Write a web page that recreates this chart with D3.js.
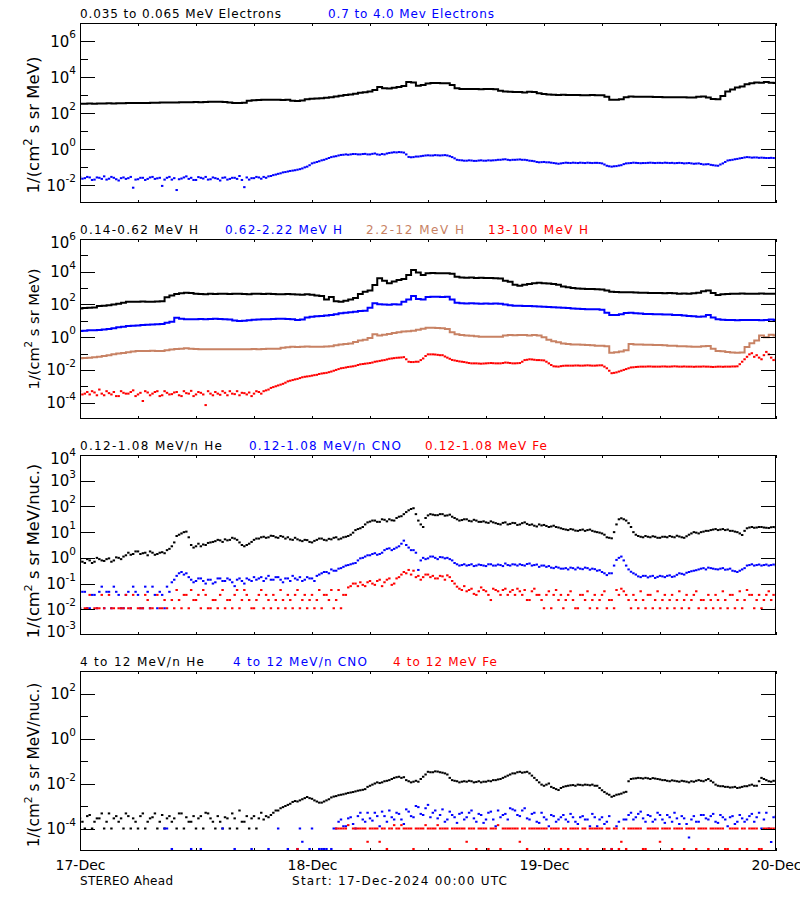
<!DOCTYPE html>
<html><head><meta charset="utf-8">
<script src="https://cdn.jsdelivr.net/npm/d3@7"></script>
<style>body{margin:0;background:#fff}svg{display:block}text{font-family:"DejaVu Sans",sans-serif}</style>
</head><body><svg id="c" width="800" height="900"></svg>
<script>
// ---------------- DATA (log10 of intensity) -------------
// "A" arrays: one value every 30 minutes from 17-Dec-2024 00:00 UTC.
// "B" arrays: the samples in between (offset by 15 minutes) for the noisy channels.
const startTime = "2024-12-17T00:00:00Z";
const endTime = "2024-12-20T00:00:00Z";
const sampleMinutes = 30;
const dayTickLabels = ["17-Dec","18-Dec","19-Dec","20-Dec"];

// Panel 1: electrons
const eLowLog = [2.52,2.52,2.53,2.52,2.53,2.53,2.54,2.53,2.54,2.54,
2.55,2.55,2.56,2.55,2.56,2.57,2.57,2.58,2.58,2.59,
2.59,2.6,2.6,2.6,2.61,2.6,2.61,2.62,2.62,2.62,
2.61,2.58,2.56,2.56,2.57,2.68,2.71,2.72,2.73,2.74,
2.74,2.73,2.72,2.73,2.68,2.67,2.7,2.76,2.79,2.8,
2.82,2.85,2.88,2.92,2.96,3.0,3.03,3.07,3.12,3.15,
3.2,3.28,3.45,3.38,3.36,3.4,3.44,3.5,3.72,3.7,
3.52,3.55,3.64,3.66,3.66,3.65,3.65,3.55,3.38,3.34,
3.34,3.33,3.33,3.32,3.33,3.33,3.32,3.24,3.2,3.18,
3.16,3.17,3.14,3.18,3.16,3.1,3.06,3.03,3.02,3.0,
3.01,3.0,3.0,3.0,2.99,2.99,3.0,2.98,2.98,2.9,
2.74,2.74,2.76,2.88,2.91,2.9,2.9,2.9,2.9,2.89,
2.89,2.88,2.88,2.88,2.88,2.87,2.86,2.86,2.9,2.92,
2.86,2.78,2.76,2.95,3.2,3.3,3.42,3.47,3.6,3.65,
3.7,3.68,3.72,3.68,3.67];
const eHighLog = [-1.55,-1.62,-1.58,-1.7,-1.6,-1.52,-1.65,-1.6,-1.75,-1.58,
-1.62,-2.15,-1.68,-1.6,-1.66,-1.55,-1.63,-2.05,-1.6,-1.7,
-2.28,-1.64,-1.52,-1.6,-1.72,-1.6,-1.55,-1.68,-1.62,-1.75,
-1.58,-1.66,-1.6,-1.5,-2.12,-1.7,-1.62,-1.58,-1.55,-1.52,
-1.45,-1.38,-1.3,-1.25,-1.2,-1.15,-1.08,-0.98,-0.8,-0.72,
-0.63,-0.55,-0.45,-0.4,-0.33,-0.3,-0.3,-0.28,-0.3,-0.27,
-0.3,-0.25,-0.32,-0.3,-0.22,-0.18,-0.17,-0.2,-0.44,-0.45,
-0.42,-0.38,-0.35,-0.36,-0.35,-0.35,-0.36,-0.45,-0.6,-0.63,
-0.65,-0.64,-0.66,-0.63,-0.65,-0.64,-0.62,-0.6,-0.57,-0.62,
-0.6,-0.58,-0.6,-0.65,-0.68,-0.74,-0.72,-0.74,-0.78,-0.82,
-0.78,-0.77,-0.76,-0.78,-0.77,-0.76,-0.78,-0.77,-0.8,-0.93,
-0.98,-0.95,-0.9,-0.8,-0.78,-0.77,-0.79,-0.78,-0.76,-0.78,
-0.77,-0.76,-0.78,-0.79,-0.77,-0.8,-0.78,-0.82,-0.8,-0.86,
-0.84,-0.9,-0.93,-0.8,-0.64,-0.6,-0.55,-0.5,-0.45,-0.48,
-0.47,-0.48,-0.5,-0.49,-0.52];
const eHighLogB = [-1.65,-1.55,-1.72,-1.58,-1.66,-1.7,-1.55,-1.68,-1.62,-1.66,
-1.55,-1.7,-1.6,-1.72,-1.58,-1.66,-1.6,-1.7,-1.55,-1.62,
-1.68,-1.58,-1.66,-1.72,-1.56,-1.64,-1.7,-1.58,-1.66,-1.6,
-1.7,-1.6,-1.66,-1.72,-1.58,-1.62,-1.55,-1.65,-1.6,-1.5,
-1.42,-1.35,-1.28,-1.22,-1.18,-1.12,-1.02,-0.9,-0.76,-0.68,
-0.6,-0.5,-0.42,-0.36,-0.32,-0.32,-0.28,-0.3,-0.28,-0.3,
-0.27,-0.3,-0.28,-0.25,-0.2,-0.19,-0.18,-0.3,-0.46,-0.42,
-0.4,-0.36,-0.36,-0.34,-0.36,-0.34,-0.4,-0.52,-0.62,-0.65,
-0.63,-0.66,-0.64,-0.65,-0.63,-0.63,-0.6,-0.58,-0.6,-0.6,
-0.59,-0.6,-0.62,-0.66,-0.72,-0.73,-0.74,-0.76,-0.8,-0.8,
-0.76,-0.78,-0.77,-0.76,-0.78,-0.77,-0.77,-0.78,-0.86,-0.96,
-0.96,-0.92,-0.84,-0.79,-0.76,-0.78,-0.78,-0.77,-0.77,-0.77,
-0.78,-0.77,-0.77,-0.78,-0.78,-0.79,-0.8,-0.81,-0.83,-0.85,
-0.88,-0.92,-0.86,-0.72,-0.62,-0.57,-0.52,-0.47,-0.46,-0.47,
-0.49,-0.49,-0.5,-0.5];

// Panel 2: protons
const h1Log = [1.76,1.78,1.8,1.82,1.9,1.92,1.95,2.0,2.05,2.1,
2.17,2.16,2.17,2.18,2.17,2.16,2.18,2.2,2.44,2.55,
2.64,2.68,2.72,2.7,2.66,2.64,2.63,2.65,2.64,2.66,
2.65,2.64,2.66,2.65,2.64,2.63,2.65,2.66,2.64,2.65,
2.64,2.62,2.63,2.64,2.62,2.61,2.6,2.62,2.6,2.55,
2.52,2.3,2.45,2.2,2.17,2.22,2.31,2.4,2.64,2.78,
2.85,3.19,3.6,3.45,3.29,3.4,3.49,3.55,3.8,4.1,
3.95,3.8,3.9,3.92,3.9,3.91,3.9,3.88,3.7,3.64,
3.63,3.64,3.62,3.63,3.62,3.61,3.6,3.58,3.45,3.39,
3.2,3.15,3.2,3.25,3.3,3.32,3.3,3.28,3.25,3.2,
3.1,3.05,3.0,2.98,2.96,2.95,2.95,2.93,2.92,2.85,
2.78,2.76,2.75,2.74,2.74,2.73,2.72,2.72,2.7,2.7,
2.7,2.69,2.7,2.68,2.66,2.67,2.65,2.68,2.72,2.8,
2.85,2.7,2.58,2.62,2.64,2.66,2.66,2.67,2.66,2.66,
2.66,2.67,2.66,2.66,2.66];
const h2Log = [0.38,0.4,0.42,0.43,0.44,0.47,0.5,0.55,0.6,0.64,
0.68,0.7,0.72,0.74,0.76,0.78,0.79,0.8,0.88,0.95,
1.19,1.12,1.1,1.1,1.09,1.11,1.1,1.11,1.12,1.11,
1.1,1.08,1.02,0.99,1.0,1.04,1.06,1.08,1.1,1.1,
1.11,1.12,1.12,1.11,1.1,1.05,1.08,1.2,1.25,1.28,
1.3,1.33,1.35,1.4,1.46,1.5,1.52,1.55,1.6,1.62,
1.8,2.07,2.02,2.0,1.98,2.01,2.0,2.17,2.3,2.52,
2.33,2.3,2.45,2.47,2.47,2.46,2.47,2.3,2.1,2.07,
2.06,2.07,2.06,2.05,2.06,2.05,2.06,2.05,2.0,1.95,
1.92,1.92,1.9,1.9,1.89,1.88,1.86,1.84,1.83,1.82,
1.8,1.78,1.76,1.74,1.72,1.71,1.7,1.7,1.68,1.5,
1.35,1.36,1.4,1.48,1.5,1.46,1.44,1.42,1.41,1.4,
1.4,1.39,1.38,1.36,1.35,1.32,1.3,1.28,1.25,1.27,
1.35,1.2,1.09,1.06,1.05,1.05,1.04,1.05,1.05,1.05,
1.05,1.04,1.05,1.08,1.05];
const h3Log = [-1.29,-1.27,-1.25,-1.22,-1.2,-1.15,-1.1,-1.05,-1.0,-0.96,
-0.92,-0.88,-0.85,-0.84,-0.84,-0.83,-0.84,-0.84,-0.8,-0.75,
-0.72,-0.7,-0.68,-0.7,-0.72,-0.74,-0.74,-0.73,-0.74,-0.74,
-0.73,-0.74,-0.74,-0.73,-0.74,-0.74,-0.72,-0.73,-0.72,-0.7,
-0.7,-0.7,-0.65,-0.62,-0.58,-0.6,-0.58,-0.57,-0.58,-0.58,
-0.58,-0.57,-0.55,-0.5,-0.45,-0.42,-0.38,-0.3,-0.2,-0.15,
-0.05,0.18,0.1,0.15,0.2,0.25,0.3,0.34,0.36,0.4,
0.45,0.52,0.58,0.58,0.56,0.54,0.5,0.3,0.18,0.13,
0.1,0.08,0.05,0.03,0.03,0.02,0.03,0.03,0.1,0.13,
0.12,0.14,0.13,0.1,0.13,0.1,0.0,-0.15,-0.25,-0.31,
-0.38,-0.42,-0.44,-0.45,-0.46,-0.48,-0.5,-0.52,-0.53,-0.55,
-0.95,-0.92,-0.88,-0.8,-0.42,-0.44,-0.45,-0.46,-0.47,-0.48,
-0.48,-0.5,-0.52,-0.53,-0.55,-0.56,-0.57,-0.58,-0.58,-0.56,
-0.54,-0.7,-0.84,-0.86,-0.9,-0.93,-0.95,-0.94,-0.6,-0.37,
-0.2,0.1,0.0,0.15,0.1];
const h4Log = [-3.3,-3.45,-3.5,-3.38,-3.2,-3.55,-3.42,-3.35,-3.6,-3.4,
-3.45,-3.25,-3.5,-3.9,-3.38,-3.45,-3.3,-3.55,-3.4,-3.48,
-3.35,-3.6,-3.42,-3.28,-3.5,-3.4,-4.15,-3.45,-3.35,-3.52,
-3.4,-3.3,-3.48,-3.55,-3.42,-3.38,-3.45,-3.35,-3.3,-3.2,
-3.05,-2.95,-2.85,-2.7,-2.62,-2.55,-2.45,-2.4,-2.35,-2.3,
-2.22,-2.18,-2.1,-2.0,-1.9,-1.85,-1.8,-1.75,-1.66,-1.62,
-1.58,-1.5,-1.45,-1.4,-1.32,-1.28,-1.25,-1.22,-1.5,-1.52,
-1.5,-1.3,-1.05,-1.05,-1.08,-1.1,-1.25,-1.39,-1.45,-1.5,
-1.55,-1.6,-1.6,-1.62,-1.6,-1.58,-1.6,-1.6,-1.55,-1.58,
-1.6,-1.58,-1.4,-1.35,-1.38,-1.4,-1.42,-1.6,-1.78,-1.8,
-1.75,-1.74,-1.74,-1.73,-1.74,-1.72,-1.74,-1.73,-1.72,-1.9,
-2.2,-2.15,-2.05,-1.95,-1.85,-1.82,-1.8,-1.8,-1.79,-1.8,
-1.8,-1.79,-1.8,-1.78,-1.8,-1.79,-1.8,-1.81,-1.8,-1.79,
-1.8,-1.82,-1.8,-1.81,-1.8,-1.79,-1.78,-1.5,-1.2,-0.98,
-1.1,-1.35,-0.9,-1.25,-1.3];
const h4LogB = [-3.5,-3.35,-3.3,-3.55,-3.45,-3.3,-3.5,-3.6,-3.3,-3.45,
-3.35,-3.6,-3.4,-3.3,-3.55,-3.35,-3.6,-3.3,-3.5,-3.38,
-3.55,-3.3,-3.45,-3.6,-3.35,-3.5,-3.3,-3.55,-3.45,-3.3,
-3.55,-3.45,-3.3,-3.4,-3.5,-3.6,-3.3,-3.45,-3.25,-3.1,
-3.0,-2.9,-2.78,-2.66,-2.58,-2.5,-2.42,-2.38,-2.32,-2.25,
-2.2,-2.14,-2.05,-1.95,-1.88,-1.82,-1.78,-1.7,-1.64,-1.6,
-1.55,-1.48,-1.42,-1.36,-1.3,-1.26,-1.24,-1.35,-1.52,-1.5,
-1.4,-1.15,-1.05,-1.06,-1.1,-1.18,-1.32,-1.42,-1.48,-1.52,
-1.58,-1.6,-1.61,-1.61,-1.59,-1.59,-1.6,-1.58,-1.56,-1.6,
-1.59,-1.5,-1.38,-1.36,-1.4,-1.41,-1.5,-1.7,-1.79,-1.77,
-1.74,-1.74,-1.73,-1.74,-1.73,-1.73,-1.74,-1.72,-1.8,-2.05,
-2.18,-2.1,-2.0,-1.9,-1.84,-1.81,-1.8,-1.79,-1.8,-1.8,
-1.79,-1.8,-1.79,-1.79,-1.8,-1.8,-1.8,-1.8,-1.8,-1.8,
-1.81,-1.81,-1.8,-1.8,-1.8,-1.79,-1.65,-1.35,-1.05,-1.2,
-1.25,-1.1,-1.05,-1.4];

// Panel 3: 0.12-1.08 MeV/n ions
const he3Log = [-0.08,-0.2,-0.1,-0.15,-0.05,-0.12,-0.02,-0.1,0.0,0.05,
0.2,0.15,0.25,0.18,0.1,0.2,0.15,0.22,0.3,0.45,
0.85,0.95,1.02,0.5,0.45,0.45,0.5,0.6,0.65,0.68,
0.72,0.7,0.75,0.6,0.45,0.55,0.7,0.75,0.82,0.8,
0.85,0.78,0.82,0.8,0.7,0.72,0.65,0.69,0.6,0.7,
0.75,0.68,0.72,0.8,0.75,0.82,0.9,1.08,1.15,1.3,
1.41,1.45,1.4,1.48,1.5,1.45,1.6,1.7,1.85,1.93,
1.45,1.2,1.65,1.68,1.66,1.7,1.65,1.6,1.5,1.47,
1.5,1.42,1.45,1.4,1.38,1.42,1.35,1.3,1.38,1.32,
1.35,1.3,1.38,1.28,1.25,1.3,1.28,1.2,1.25,1.18,
1.12,1.08,1.1,1.05,1.1,1.08,1.05,1.0,0.95,0.8,
0.76,1.3,1.54,1.45,1.2,0.9,0.82,0.85,0.8,0.82,
0.78,0.82,0.85,0.8,0.83,0.78,0.9,1.0,0.95,1.02,
1.05,1.1,1.08,1.12,1.1,1.05,1.0,0.89,1.15,1.2,
1.18,1.2,1.17,1.19,1.16];
const he3LogB = [-0.15,-0.05,-0.2,0.0,-0.1,-0.05,-0.15,0.02,-0.05,0.1,
0.12,0.25,0.15,0.2,0.25,0.12,0.2,0.18,0.35,0.6,
0.9,1.0,0.8,0.4,0.55,0.52,0.58,0.62,0.7,0.62,
0.68,0.78,0.7,0.5,0.5,0.62,0.75,0.8,0.78,0.86,
0.8,0.85,0.75,0.72,0.78,0.68,0.7,0.62,0.66,0.75,
0.7,0.74,0.78,0.72,0.8,0.85,0.98,1.12,1.2,1.38,
1.45,1.4,1.5,1.42,1.46,1.55,1.62,1.78,1.9,1.7,
1.3,1.55,1.7,1.66,1.7,1.64,1.68,1.55,1.45,1.5,
1.44,1.48,1.4,1.42,1.36,1.38,1.32,1.36,1.3,1.36,
1.28,1.35,1.32,1.3,1.22,1.26,1.24,1.22,1.2,1.15,
1.1,1.12,1.06,1.08,1.05,1.1,1.02,0.98,0.9,0.78,
1.0,1.5,1.5,1.35,1.0,0.85,0.8,0.82,0.84,0.78,
0.82,0.8,0.82,0.86,0.8,0.84,0.95,0.98,1.0,1.05,
1.08,1.12,1.1,1.08,1.05,1.02,0.95,1.05,1.18,1.17,
1.2,1.18,1.16,1.2];
const cno3Log = [-1.96,-1.32,-1.96,-1.44,-1.32,-1.96,-1.32,-1.12,-1.44,-1.96,
-1.32,-1.12,-1.44,-1.96,-1.32,-1.12,-1.96,-1.44,-1.12,-0.95,
-0.7,-0.55,-0.6,-0.85,-0.9,-0.8,-1.0,-0.85,-0.95,-0.8,
-0.9,-0.85,-1.1,-0.8,-1.0,-0.85,-0.75,-0.8,-0.9,-0.7,
-0.85,-0.75,-0.95,-0.8,-0.7,-0.85,-0.9,-0.75,-0.8,-0.7,
-0.6,-0.55,-0.45,-0.5,-0.4,-0.3,-0.25,-0.2,-0.02,0.05,
0.1,0.18,0.15,0.3,0.37,0.35,0.45,0.67,0.4,0.3,
-0.47,0.0,-0.02,0.05,-0.05,0.02,0.0,-0.1,-0.25,-0.28,
-0.3,-0.25,-0.3,-0.28,-0.32,-0.25,-0.3,-0.28,-0.22,-0.3,
-0.26,-0.25,-0.3,-0.22,-0.28,-0.35,-0.3,-0.32,-0.4,-0.38,
-0.42,-0.45,-0.4,-0.38,-0.44,-0.4,-0.42,-0.5,-0.55,-0.67,
-0.6,-0.08,0.05,-0.3,-0.54,-0.65,-0.75,-0.7,-0.72,-0.78,
-0.7,-0.75,-0.68,-0.72,-0.6,-0.65,-0.55,-0.5,-0.45,-0.4,
-0.38,-0.42,-0.45,-0.4,-0.45,-0.5,-0.55,-0.45,-0.3,-0.25,
-0.28,-0.3,-0.26,-0.28,-0.3];
const cno3LogB = [-1.32,-1.96,-1.44,-1.96,-1.12,-1.32,-1.96,-1.32,-1.96,-1.44,
-1.96,-1.32,-1.96,-1.12,-1.96,-1.44,-1.32,-1.96,-1.32,-0.85,
-0.6,-0.65,-0.75,-0.95,-0.8,-0.9,-0.85,-1.0,-0.8,-0.9,
-0.8,-0.95,-0.85,-0.9,-0.8,-0.9,-0.85,-0.75,-0.8,-0.85,
-0.75,-0.85,-0.8,-0.9,-0.8,-0.75,-0.85,-0.8,-0.9,-0.65,
-0.55,-0.6,-0.5,-0.42,-0.35,-0.28,-0.22,-0.1,0.0,0.1,
0.15,0.12,0.2,0.35,0.3,0.4,0.55,0.5,0.3,0.2,
-0.1,-0.05,0.05,0.0,0.03,-0.02,-0.05,-0.2,-0.3,-0.25,
-0.28,-0.32,-0.26,-0.3,-0.25,-0.3,-0.26,-0.32,-0.28,-0.25,
-0.3,-0.28,-0.24,-0.3,-0.26,-0.3,-0.35,-0.38,-0.35,-0.42,
-0.4,-0.38,-0.45,-0.42,-0.38,-0.46,-0.44,-0.48,-0.6,-0.6,
-0.3,0.0,-0.1,-0.45,-0.6,-0.72,-0.7,-0.76,-0.7,-0.74,
-0.72,-0.7,-0.74,-0.66,-0.62,-0.58,-0.52,-0.48,-0.42,-0.45,
-0.4,-0.44,-0.42,-0.46,-0.42,-0.52,-0.5,-0.4,-0.28,-0.3,
-0.26,-0.28,-0.3,-0.26];
const fe3Log = [-1.96,-1.96,-1.44,-1.96,-1.96,-1.96,-1.44,-1.96,-1.96,-1.96,
-1.96,-1.44,-1.96,-1.96,-1.64,-1.96,-1.44,-1.96,-1.96,-1.64,
-1.25,-1.96,-1.44,-1.25,-1.64,-1.96,-1.44,-1.96,-1.64,-1.44,
-1.96,-1.64,-1.44,-1.96,-1.25,-1.64,-1.96,-1.44,-1.96,-1.64,
-1.44,-1.96,-1.64,-1.44,-1.96,-1.25,-1.64,-1.96,-1.44,-1.64,
-1.96,-1.44,-1.25,-1.64,-1.96,-1.44,-1.1,-1.0,-0.95,-1.1,
-0.9,-1.05,-0.85,-0.95,-0.8,-1.0,-0.75,-0.55,-0.47,-0.5,
-0.7,-0.75,-0.65,-0.7,-0.8,-0.72,-0.68,-0.9,-1.12,-1.25,
-1.3,-1.2,-1.44,-1.15,-1.3,-1.64,-1.25,-1.44,-1.2,-1.32,
-1.44,-1.3,-1.25,-1.64,-1.2,-1.44,-1.96,-1.3,-1.44,-1.64,
-1.96,-1.44,-1.64,-1.96,-1.44,-1.3,-1.64,-1.96,-1.44,-1.96,
-1.64,-1.25,-1.2,-1.44,-1.96,-1.64,-1.3,-1.96,-1.44,-1.64,
-1.96,-1.44,-1.64,-1.96,-1.3,-1.64,-1.96,-1.44,-1.96,-1.64,
-1.44,-1.96,-1.64,-1.3,-1.96,-1.44,-1.64,-1.96,-1.25,-1.44,
-1.64,-1.96,-1.44,-1.64,-1.96];
const fe3LogB = [null,-1.96,null,-1.96,-1.44,null,-1.96,null,-1.96,-1.44,
-1.96,null,-1.96,-1.44,-1.96,null,-1.96,-1.64,null,-1.96,
-1.64,-1.44,-1.96,-1.64,-1.44,-1.25,-1.96,-1.64,-1.96,-1.25,
-1.64,-1.96,-1.25,-1.64,-1.44,-1.96,-1.64,-1.25,-1.44,-1.96,
-1.64,-1.25,-1.96,-1.64,-1.44,-1.96,-1.44,-1.64,-1.96,-1.25,
-1.44,-1.64,-1.96,-1.25,-1.44,-1.15,-1.0,-1.1,-1.05,-0.95,
-1.0,-0.9,-1.1,-0.85,-1.05,-0.8,-0.65,-0.6,-0.65,-0.75,
-0.85,-0.65,-0.75,-0.8,-0.7,-0.85,-0.75,-1.0,-1.2,-1.1,
-1.25,-1.4,-1.3,-1.25,-1.44,-1.2,-1.3,-1.25,-1.44,-1.25,
-1.2,-1.44,-1.64,-1.3,-1.44,-1.64,-1.44,-1.96,-1.25,-1.44,
-1.64,-1.3,-1.96,-1.44,-1.64,-1.96,-1.44,-1.64,-1.3,-1.64,
-1.96,-1.44,-1.3,-1.64,-1.44,-1.96,-1.64,-1.44,-1.96,-1.3,
-1.64,-1.96,-1.44,-1.64,-1.96,-1.44,-1.64,-1.3,-1.64,-1.96,
-1.64,-1.44,-1.96,-1.64,-1.44,-1.96,-1.3,-1.64,-1.44,-1.96,
-1.44,-1.64,-1.3,-1.44];

// Panel 4: 4-12 MeV/n ions (null = no count)
const he4Log = [-3.55,-4.0,-3.4,-3.7,-3.55,-4.0,-3.33,-3.55,-3.7,-4.0,
-3.45,-3.55,-4.0,-3.33,-3.7,-3.5,-4.0,-3.4,-3.55,-3.7,
-4.0,-3.33,-3.5,-3.7,-4.0,-3.45,-3.3,-3.55,-4.0,-3.7,
-3.5,-4.0,-3.55,-3.2,-3.7,-4.0,-3.45,-3.55,-3.6,-3.5,
-3.3,-3.2,-3.05,-2.95,-2.82,-2.8,-2.7,-2.6,-2.68,-2.8,
-2.85,-2.75,-2.62,-2.56,-2.5,-2.45,-2.4,-2.35,-2.3,-2.25,
-2.1,-2.0,-1.98,-1.9,-1.85,-1.75,-1.7,-1.72,-1.9,-1.92,
-1.92,-1.7,-1.48,-1.5,-1.47,-1.52,-1.6,-1.85,-1.9,-1.92,
-1.92,-1.9,-1.93,-1.95,-1.92,-1.9,-1.85,-1.8,-1.7,-1.6,
-1.55,-1.48,-1.5,-1.55,-1.75,-1.95,-2.1,-2.0,-2.2,-2.29,
-2.15,-2.1,-2.07,-2.05,-2.08,-2.06,-2.05,-2.1,-2.3,-2.45,
-2.59,-2.5,-2.45,-2.37,-1.8,-1.77,-1.76,-1.75,-1.8,-1.78,
-1.82,-1.85,-1.9,-1.88,-1.92,-1.9,-1.95,-1.92,-1.85,-1.9,
-1.8,-1.95,-2.1,-2.12,-2.15,-2.17,-2.2,-2.15,-2.12,-2.05,
-2.1,-1.75,-1.85,-1.92,-1.9];
const he4LogB = [-3.7,-3.45,-4.0,-3.55,-3.33,-3.7,-4.0,-3.45,-3.55,-3.33,
-4.0,-3.7,-3.45,-4.0,-3.55,-3.33,-3.7,-4.0,-3.45,-3.55,
-3.33,-4.0,-3.7,-3.45,-3.55,-4.0,-3.33,-3.7,-3.45,-4.0,
-3.55,-3.33,-4.0,-3.7,-3.45,-3.55,-4.0,-3.3,-3.45,-3.4,
-3.2,-3.1,-3.0,-2.9,-2.78,-2.75,-2.65,-2.65,-2.75,-2.85,
-2.8,-2.7,-2.58,-2.52,-2.48,-2.42,-2.38,-2.32,-2.28,-2.15,
-2.05,-1.95,-1.95,-1.88,-1.8,-1.72,-1.75,-1.85,-1.95,-1.88,
-1.8,-1.6,-1.5,-1.46,-1.5,-1.55,-1.75,-1.88,-1.95,-1.9,
-1.88,-1.95,-1.9,-1.92,-1.88,-1.85,-1.82,-1.75,-1.65,-1.55,
-1.5,-1.52,-1.48,-1.65,-1.85,-2.05,-2.05,-2.15,-2.25,-2.2,
-2.12,-2.08,-2.1,-2.06,-2.05,-2.08,-2.1,-2.2,-2.38,-2.5,
-2.55,-2.48,-2.4,-1.9,-1.78,-1.75,-1.78,-1.77,-1.76,-1.8,
-1.85,-1.88,-1.86,-1.9,-1.88,-1.92,-1.9,-1.88,-1.88,-1.85,
-1.88,-2.05,-2.12,-2.15,-2.18,-2.15,-2.18,-2.12,-2.08,-2.1,
-1.9,-1.8,-1.9,-1.88];
const cno4Log = [null,null,null,null,null,null,null,null,null,null,
null,null,null,null,null,null,null,null,-4.0,-4.91,
null,null,null,-4.91,null,-4.91,null,null,null,null,
null,null,-4.91,null,null,null,null,null,null,-4.91,
null,-4.0,null,-4.91,null,-4.91,-4.59,null,-4.0,null,
-4.91,-4.91,-4.91,-4.0,-3.6,-3.9,-3.5,-4.0,-3.3,-3.7,
-3.55,-3.3,-3.9,-3.45,-3.2,-3.6,-3.35,-3.8,-3.25,-3.5,
-3.05,-3.4,-2.95,-3.3,-3.55,-3.15,-3.6,-3.4,-3.75,-3.3,
-3.5,-3.2,-3.7,-3.4,-3.6,-3.25,-3.9,-3.5,-3.35,-3.1,
-3.2,-3.45,-3.1,-3.6,-3.3,-3.75,-3.5,-3.9,-3.45,-3.6,
-3.4,-3.7,-3.5,-3.8,-3.45,-3.6,-3.35,-3.9,-3.5,-3.7,
-4.91,-3.9,null,-3.6,-3.3,-3.5,-3.25,-3.7,-3.45,-3.6,
-3.4,-3.75,-3.5,-3.3,-3.8,-3.55,-4.4,-3.45,-3.7,-3.4,
-3.6,-3.35,-3.75,-3.5,-3.9,-3.45,-3.7,-3.55,-3.6,-3.35,
-3.5,-4.0,-3.3,-4.6,-3.45];
const cno4LogB = [null,null,null,null,null,null,null,null,null,null,
null,null,null,null,null,null,null,-4.0,null,null,
null,null,null,null,null,null,null,null,null,-4.0,
null,null,null,null,null,-4.91,null,null,null,null,
null,null,null,null,null,-4.0,null,-4.91,null,-4.91,
-4.91,null,-4.0,-3.7,-3.9,-3.55,-3.8,-3.45,-3.6,-3.3,
-3.65,-3.45,-3.25,-3.7,-3.5,-3.3,-3.6,-3.15,-3.45,-3.0,
-3.35,-3.1,-3.5,-3.2,-3.4,-3.7,-3.25,-3.5,-3.35,-3.6,
-3.3,-3.55,-3.35,-3.75,-3.3,-3.6,-3.2,-3.4,-3.6,-3.15,
-3.4,-3.2,-3.55,-3.35,-3.7,-3.3,-3.6,-3.4,-3.7,-3.5,
-3.6,-3.35,-3.7,-3.5,-3.6,-3.9,-3.5,-3.6,-3.8,-3.45,
null,-3.7,-3.6,-3.4,-3.6,-3.35,-3.55,-3.4,-3.7,-3.3,
-3.6,-3.4,-3.7,-3.55,-3.45,-3.8,-3.6,-3.7,-3.4,-3.55,
-3.45,-3.7,-3.4,-3.6,-3.5,-3.8,-3.4,-3.7,-3.45,-3.7,
-3.3,-3.6,-4.0,-3.5];
const fe4Log = [null,null,null,null,null,null,null,null,null,null,
null,null,null,null,null,null,null,null,null,null,
null,null,null,null,null,null,null,null,null,null,
null,null,null,null,null,null,null,null,null,null,
null,null,null,null,null,-4.91,null,null,null,null,
null,null,null,-4.0,-4.0,-4.0,-4.91,-4.0,-4.0,-4.0,
-4.0,-4.0,-4.59,-4.0,-4.0,-3.85,-4.0,-4.0,-4.0,-4.91,
-4.0,-4.0,-4.0,-4.0,-3.85,-4.0,-4.0,-4.0,-4.0,-4.0,
-4.59,-4.0,-4.91,-4.0,-4.0,-4.0,-4.0,-4.91,-4.0,-4.0,
-4.0,-4.59,-4.0,-4.0,-4.0,-4.0,-4.0,-4.91,-4.0,-4.0,
-4.0,-4.91,-4.0,-4.0,-4.0,-4.91,-4.0,-4.0,-4.0,-4.0,
-4.91,-4.0,-4.59,-4.91,-4.0,-4.0,-4.0,-4.91,-4.0,-4.0,
-4.59,-4.0,-4.0,-4.0,-4.0,-4.91,-4.0,-4.0,-4.0,-4.0,
-4.91,-4.0,-4.0,-4.0,-4.91,-4.0,-4.0,-4.0,-4.91,-4.0,
-4.0,-4.91,-4.0,-4.0,-4.0];
const fe4LogB = [null,null,null,null,null,null,null,null,null,null,
null,null,null,null,null,null,null,null,null,null,
null,null,null,null,null,null,null,null,null,null,
null,null,null,null,null,null,null,null,null,null,
null,null,null,null,null,null,null,null,null,null,
null,null,null,-4.0,-4.0,-3.85,-4.0,-4.0,-4.0,-4.59,
-4.0,-4.0,-4.0,-4.91,-4.0,-4.0,-3.85,-4.0,-4.0,-4.0,
-4.0,-3.85,-4.0,-4.0,-4.0,-4.0,-4.91,-4.0,-4.0,-4.0,
-4.0,-4.0,-4.0,-4.0,-4.91,-4.0,-3.85,-4.0,-4.0,-4.0,
-4.0,-4.0,-4.91,-4.0,-4.0,-4.0,-4.0,-4.0,-4.0,-4.91,
-4.0,-4.0,-4.0,-4.91,-4.0,-4.0,-4.0,-4.0,-4.91,-4.0,
-4.0,-4.91,-4.0,-4.0,-4.0,-4.0,-4.91,-4.0,-4.0,-4.0,
-4.0,-4.0,-4.91,-4.0,-4.0,-4.0,-4.0,-4.91,-4.0,-4.0,
-4.0,-4.0,-4.0,-4.91,-4.0,-4.0,-4.91,-4.0,-4.0,-4.0,
-4.91,-4.0,-4.0,-4.0];

// ---------------- LAYOUT ----------------
const BLUE = "#0000ff", RED = "#ff0000", BROWN = "#c88264", BLACK = "#000000";
const L = 80, R = 776, PH = 180;
const panels = [
  {top: 23, lo: -3, hi: 7, majors: [-2,0,2,4,6], minors: [-1,1,3,5], labels: [-2,0,2,4,6],
   ylabel: ["1/(cm", "2", " s sr MeV)"], yfs: 16.5, ycy: 125,
   titles: [{t: "0.035 to 0.065 MeV Electrons", x: 80, w: 201, c: BLACK}, {t: "0.7 to 4.0 Mev Electrons", x: 328, w: 166, c: BLUE}],
   series: [{v: eLowLog, c: BLACK, mode: "line"}, {v: eHighLog, vB: eHighLogB, c: BLUE, mode: "dots"}]},
  {top: 239, lo: -5, hi: 6, majors: [-4,-2,0,2,4], minors: [-3,-1,1,3,5], labels: [-4,-2,0,2,4,6],
   ylabel: ["1/(cm", "2", " s sr MeV)"], yfs: 14.6, ycy: 329,
   titles: [{t: "0.14-0.62 MeV H", x: 80, w: 118, c: BLACK}, {t: "0.62-2.22 MeV H", x: 225, w: 117, c: BLUE},
            {t: "2.2-12 MeV H", x: 366, w: 98, c: BROWN}, {t: "13-100 MeV H", x: 488, w: 100, c: RED}],
   series: [{v: h1Log, c: BLACK, mode: "line"}, {v: h2Log, c: BLUE, mode: "line"}, {v: h3Log, c: BROWN, mode: "line"}, {v: h4Log, vB: h4LogB, c: RED, mode: "dots"}]},
  {top: 455, lo: -3, hi: 4, majors: [-2,-1,0,1,2,3], minors: [], labels: [-3,-2,-1,0,1,2,3,4],
   ylabel: ["1/(cm", "2", " s sr MeV/nuc.)"], yfs: 16.2, ycy: 551,
   titles: [{t: "0.12-1.08 MeV/n He", x: 80, w: 142, c: BLACK}, {t: "0.12-1.08 MeV/n CNO", x: 249, w: 152, c: BLUE},
            {t: "0.12-1.08 MeV Fe", x: 425, w: 122, c: RED}],
   series: [{v: he3Log, vB: he3LogB, c: BLACK, mode: "dots"}, {v: cno3Log, vB: cno3LogB, c: BLUE, mode: "dots"}, {v: fe3Log, vB: fe3LogB, c: RED, mode: "dots"}]},
  {top: 671, lo: -5, hi: 3, majors: [-4,-2,0,2], minors: [-3,-1,1], labels: [-4,-2,0,2],
   ylabel: ["1/(cm", "2", " s sr MeV/nuc.)"], yfs: 15.3, ycy: 765,
   titles: [{t: "4 to 12 MeV/n He", x: 80, w: 124, c: BLACK}, {t: "4 to 12 MeV/n CNO", x: 233, w: 134, c: BLUE},
            {t: "4 to 12 MeV Fe", x: 393, w: 104, c: RED}],
   series: [{v: he4Log, vB: he4LogB, c: BLACK, mode: "dots"}, {v: cno4Log, vB: cno4LogB, c: BLUE, mode: "dots"}, {v: fe4Log, vB: fe4LogB, c: RED, mode: "dots"}]}
];

const svg = d3.select("#c");
svg.append("rect").attr("width", 800).attr("height", 900).attr("fill", "#fff");
const x = d3.scaleUtc().domain([new Date(startTime), new Date(endTime)]).range([L, R]);
const t0 = new Date(startTime).getTime();
const tAt = k => new Date(t0 + k * sampleMinutes * 60000);
const slotW = x(tAt(1)) - x(tAt(0));

panels.forEach((p, pi) => {
  const B = p.top + PH;
  const y = d3.scaleLog().domain([10 ** p.lo, 10 ** p.hi]).range([B, p.top]);
  const g = svg.append("g");
  const cid = "clip" + pi;
  svg.append("clipPath").attr("id", cid).append("rect").attr("x", L).attr("y", p.top).attr("width", R - L).attr("height", PH);
  const dg = g.append("g").attr("clip-path", `url(#${cid})`);
  p.series.forEach(s => {
    let pts = s.v.map((v, i) => ({t: tAt(i), v}));
    if (s.vB) pts = pts.concat(s.vB.map((v, i) => ({t: tAt(i + 0.5), v})));
    pts = pts.filter(d => d.v !== null);
    if (s.mode === "line") {
      const line = d3.line().x(d => x(d.t)).y(d => y(10 ** d.v)).curve(d3.curveStep);
      dg.append("path").datum(pts).attr("d", line).attr("fill", "none").attr("stroke", s.c).attr("stroke-width", 2);
    } else {
      const w = s.vB ? slotW / 2 : slotW - 0.6;
      dg.append("g").selectAll("rect").data(pts).join("rect")
        .attr("x", d => x(d.t) - w / 2).attr("y", d => y(10 ** d.v) - 1)
        .attr("width", w).attr("height", 2).attr("fill", s.c);
    }
  });
  // frame
  g.append("rect").attr("x", L + 0.5).attr("y", p.top + 0.5).attr("width", R - L - 1).attr("height", PH - 1)
    .attr("fill", "none").attr("stroke", "#000").attr("stroke-width", 1);
  const axisStyle = sel => { sel.select(".domain").remove(); sel.selectAll("line").attr("stroke", "#000").attr("shape-rendering", "crispEdges"); };
  g.append("g").attr("transform", `translate(${L},0)`).call(d3.axisLeft(y).tickValues(p.majors.map(e => 10 ** e)).tickSize(-15).tickFormat("")).call(axisStyle);
  g.append("g").attr("transform", `translate(${R},0)`).call(d3.axisRight(y).tickValues(p.majors.map(e => 10 ** e)).tickSize(-15).tickFormat("")).call(axisStyle);
  if (p.minors.length) {
    g.append("g").attr("transform", `translate(${L},0)`).call(d3.axisLeft(y).tickValues(p.minors.map(e => 10 ** e)).tickSize(-8).tickFormat("")).call(axisStyle);
    g.append("g").attr("transform", `translate(${R},0)`).call(d3.axisRight(y).tickValues(p.minors.map(e => 10 ** e)).tickSize(-8).tickFormat("")).call(axisStyle);
  }
  g.append("g").attr("transform", `translate(0,${B})`).call(d3.axisBottom(x).ticks(d3.utcHour.every(6)).tickSize(-3).tickFormat("")).call(axisStyle);
  g.append("g").attr("transform", `translate(0,${p.top})`).call(d3.axisTop(x).ticks(d3.utcHour.every(6)).tickSize(-3).tickFormat("")).call(axisStyle);
  // y tick labels 10^n
  p.labels.forEach(e => {
    const ty = y(10 ** e);
    let off = 5.5;
    if (e === p.hi) off = 9; if (e === p.lo) off = 2;
    const tx = g.append("text").attr("x", 76).attr("y", ty + off).attr("text-anchor", "end").attr("font-size", 15).attr("fill", "#000");
    tx.append("tspan").text("10");
    tx.append("tspan").attr("dy", -8.5).attr("font-size", 10.5).text(String(e));
  });
  // y label
  const yl = g.append("text").attr("transform", `translate(39,${p.ycy}) rotate(-90)`).attr("text-anchor", "middle").attr("font-size", p.yfs).attr("fill", "#000");
  yl.append("tspan").text(p.ylabel[0]);
  yl.append("tspan").attr("dy", -p.yfs * 0.45).attr("font-size", p.yfs * 0.7).text(p.ylabel[1]);
  yl.append("tspan").attr("dy", p.yfs * 0.45).text(p.ylabel[2]);
  // titles
  p.titles.forEach(tt => {
    g.append("text").attr("x", tt.x).attr("y", p.top - 5.5).attr("font-size", 12).attr("fill", tt.c)
      .attr("textLength", tt.w).attr("lengthAdjust", "spacing").text(tt.t);
  });
  if (pi === panels.length - 1) {
    const ax = g.append("g").attr("transform", `translate(0,${B})`)
      .call(d3.axisBottom(x).tickValues(d3.utcDay.range(new Date(startTime), new Date(new Date(endTime).getTime() + 1))).tickSize(0).tickPadding(9)
        .tickFormat((d, i) => dayTickLabels[i]));
    ax.select(".domain").remove();
    ax.selectAll("text").attr("font-size", 14).attr("font-family", "DejaVu Sans").attr("fill", "#000");
  }
});
svg.append("text").attr("x", 80).attr("y", 885).attr("font-size", 12).attr("textLength", 93).attr("lengthAdjust", "spacing").text("STEREO Ahead");
svg.append("text").attr("x", 292).attr("y", 885).attr("font-size", 12).attr("textLength", 215).attr("lengthAdjust", "spacing").text("Start: 17-Dec-2024 00:00 UTC");
</script></body></html>
